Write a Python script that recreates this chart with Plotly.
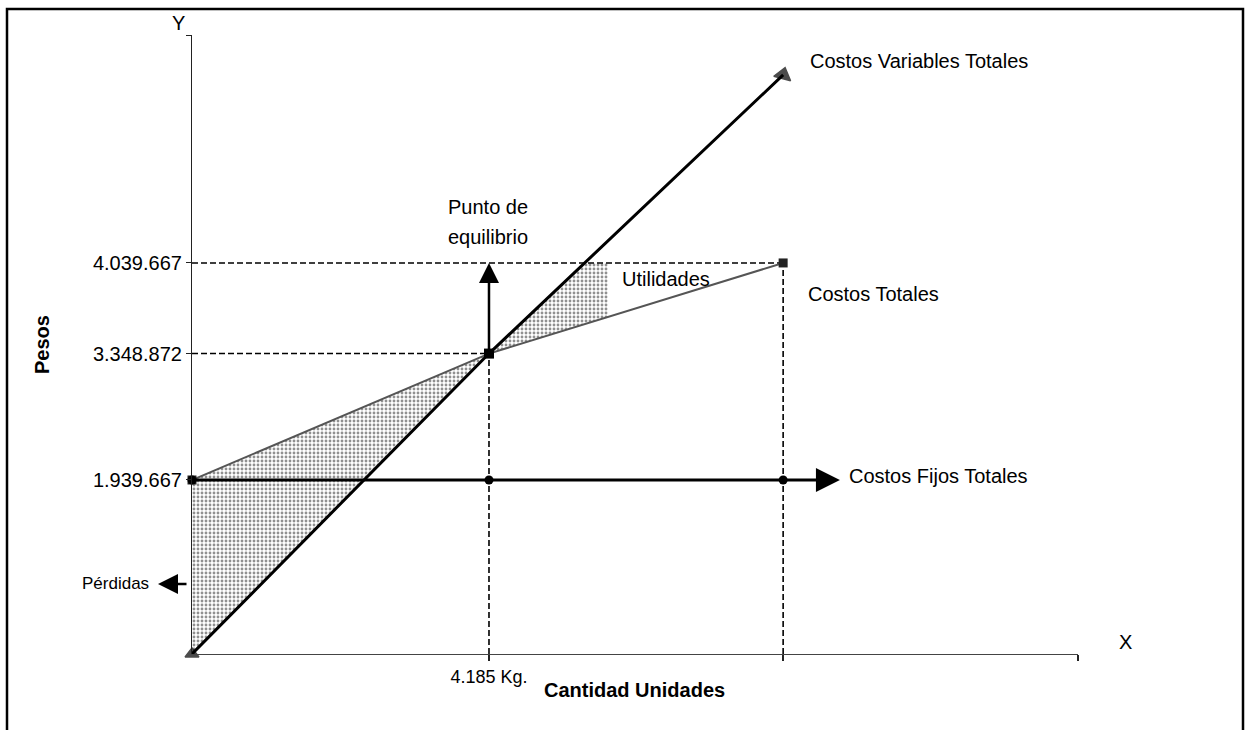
import plotly.graph_objects as go

# ---------------- data ----------------
cantidad = [0, 4185, 8330]                       # Kg.
costos_variables = [0, 3348872, 6455000]         # Costos Variables Totales
costos_totales = [1939667, 3348872, 4359000]     # Costos Totales
costos_fijos = [1939667, 1939667, 1939667]       # Costos Fijos Totales
costos_fijos_arrow_x = 9130                      # end of the CFT arrow

perdidas_x = [0, 4185, 0]
perdidas_y = [1939667, 3348872, 0]
utilidades_x = [4185, 5533, 5862, 5862]
utilidades_y = [3348872, 4359000, 4359000, 3757600]

y_tickvals = [1939667, 3348872, 4359000]
y_ticktext = ["1.939.667", "3.348.872", "4.039.667"]
x_tickvals = [4185, 8330]
x_ticktext = ["4.185 Kg.", ""]

# ---------------- layout helpers (pixel -> paper) ----------------
W, H = 1246, 730
L, R, T, B = 192, 1078, 35, 654
X_MAX = 12485
Y_MAX = 6900000


def px(x):
    return (x - L) / (R - L)


def py(y):
    return (B - y) / (B - T)


FONT = "Arial, Liberation Sans, Helvetica, sans-serif"
pattern = dict(shape=".", fgcolor="#222222", bgcolor="rgba(255,255,255,0)", size=4, solidity=0.4)

fig = go.Figure()

# shaded areas
fig.add_trace(go.Scatter(x=perdidas_x, y=perdidas_y, fill="toself", mode="lines",
                         line=dict(width=0), fillcolor="rgba(255,255,255,0)",
                         fillpattern=pattern, hoverinfo="skip", showlegend=False))
fig.add_trace(go.Scatter(x=utilidades_x, y=utilidades_y, fill="toself", mode="lines",
                         line=dict(width=0), fillcolor="rgba(255,255,255,0)",
                         fillpattern=pattern, hoverinfo="skip", showlegend=False))

# dashed guide lines
dash = dict(color="black", width=1.6, dash="6px,3px")
fig.add_trace(go.Scatter(x=[0, cantidad[2]], y=[costos_totales[2]] * 2, mode="lines",
                         line=dash, showlegend=False, hoverinfo="skip"))
fig.add_trace(go.Scatter(x=[0, cantidad[1]], y=[costos_totales[1]] * 2, mode="lines",
                         line=dash, showlegend=False, hoverinfo="skip"))
fig.add_trace(go.Scatter(x=[cantidad[1]] * 2, y=[0, costos_totales[1]], mode="lines",
                         line=dash, showlegend=False, hoverinfo="skip"))
fig.add_trace(go.Scatter(x=[cantidad[2]] * 2, y=[0, costos_totales[2]], mode="lines",
                         line=dash, showlegend=False, hoverinfo="skip"))

# Costos Totales
fig.add_trace(go.Scatter(x=cantidad, y=costos_totales, mode="lines+markers",
                         line=dict(color="#555555", width=2),
                         marker=dict(symbol="square", size=9, color="#222222"),
                         showlegend=False, cliponaxis=False))
# Costos Fijos Totales
fig.add_trace(go.Scatter(x=cantidad, y=costos_fijos, mode="lines+markers",
                         line=dict(color="black", width=3),
                         marker=dict(symbol="circle", size=9, color="black"),
                         showlegend=False, cliponaxis=False))
# Costos Variables Totales
fig.add_trace(go.Scatter(x=cantidad, y=costos_variables, mode="lines",
                         line=dict(color="black", width=3),
                         showlegend=False, cliponaxis=False))
fig.add_trace(go.Scatter(x=[cantidad[0], cantidad[2]], y=[costos_variables[0], costos_variables[2]],
                         mode="markers",
                         marker=dict(symbol="triangle-up", size=[12, 15], color="black", angle=[0, 15],
                                     line=dict(color="black", width=1.5)),
                         showlegend=False, cliponaxis=False))
# break-even point
fig.add_trace(go.Scatter(x=[cantidad[1]], y=[costos_totales[1]], mode="markers",
                         marker=dict(symbol="square", size=10, color="black"),
                         showlegend=False, cliponaxis=False))

annotations = []
# arrows
annotations.append(dict(x=costos_fijos_arrow_x, y=costos_fijos[2], ax=cantidad[2], ay=costos_fijos[2],
                        xref="x", yref="y", axref="x", ayref="y", showarrow=True, text="",
                        arrowhead=2, arrowwidth=3, arrowsize=1.6, arrowcolor="black"))
annotations.append(dict(x=cantidad[1], y=costos_totales[2], ax=cantidad[1], ay=costos_totales[1],
                        xref="x", yref="y", axref="x", ayref="y", showarrow=True, text="",
                        arrowhead=2, arrowwidth=2.5, arrowsize=1.6, arrowcolor="black"))
annotations.append(dict(x=px(158), y=py(584), ax=30, ay=0, xref="paper", yref="paper",
                        showarrow=True, text="", arrowhead=2, arrowwidth=2.5, arrowsize=1.6,
                        arrowcolor="black"))


def txt(t, x, y, size=20, xanchor="left", bold=False, angle=0):
    annotations.append(dict(text=f"<b>{t}</b>" if bold else t, x=px(x), y=py(y),
                            xref="paper", yref="paper", showarrow=False, xanchor=xanchor,
                            yanchor="middle", textangle=angle,
                            font=dict(family=FONT, size=size, color="black")))


txt("Y", 178, 23, xanchor="center")
txt("X", 1125, 642, xanchor="center")
txt("Pesos", 42, 345, xanchor="center", bold=True, angle=-90)
txt("Cantidad Unidades", 634, 690, xanchor="center", bold=True)
txt("Punto de", 488, 207, xanchor="center")
txt("equilibrio", 488, 237, xanchor="center")
txt("Utilidades", 620, 279)
txt("Costos Variables Totales", 808, 61)
txt("Costos Totales", 806, 294)
txt("Costos Fijos Totales", 847, 476)
txt("Pérdidas", 80, 583, size=17)

fig.update_layout(
    width=W, height=H,
    margin=dict(l=L, r=W - R, t=T, b=H - B),
    paper_bgcolor="white", plot_bgcolor="white",
    showlegend=False,
    font=dict(family=FONT, color="black"),
    annotations=annotations,
    shapes=[dict(type="rect", xref="paper", yref="paper",
                 x0=px(7), x1=px(1243), y0=py(732), y1=py(9),
                 line=dict(color="black", width=2.5), layer="above")],
)
fig.update_xaxes(range=[0, X_MAX], showgrid=False, zeroline=False, showline=True,
                 linecolor="#444444", linewidth=1.2, ticks="outside", ticklen=6,
                 tickcolor="#222222", tickwidth=1.5,
                 tickvals=x_tickvals + [X_MAX], ticktext=x_ticktext + [""],
                 tickfont=dict(family=FONT, size=18, color="black"))
fig.update_yaxes(range=[0, Y_MAX], showgrid=False, zeroline=False, showline=True,
                 linecolor="#222222", linewidth=1.2, ticks="outside", ticklen=5,
                 tickcolor="#222222", tickvals=y_tickvals + [Y_MAX], ticktext=y_ticktext + [""],
                 tickfont=dict(family=FONT, size=20, color="black"))

fig.write_html("out.html", config={"displayModeBar": False},
               post_script="document.body.style.margin='0px';")
